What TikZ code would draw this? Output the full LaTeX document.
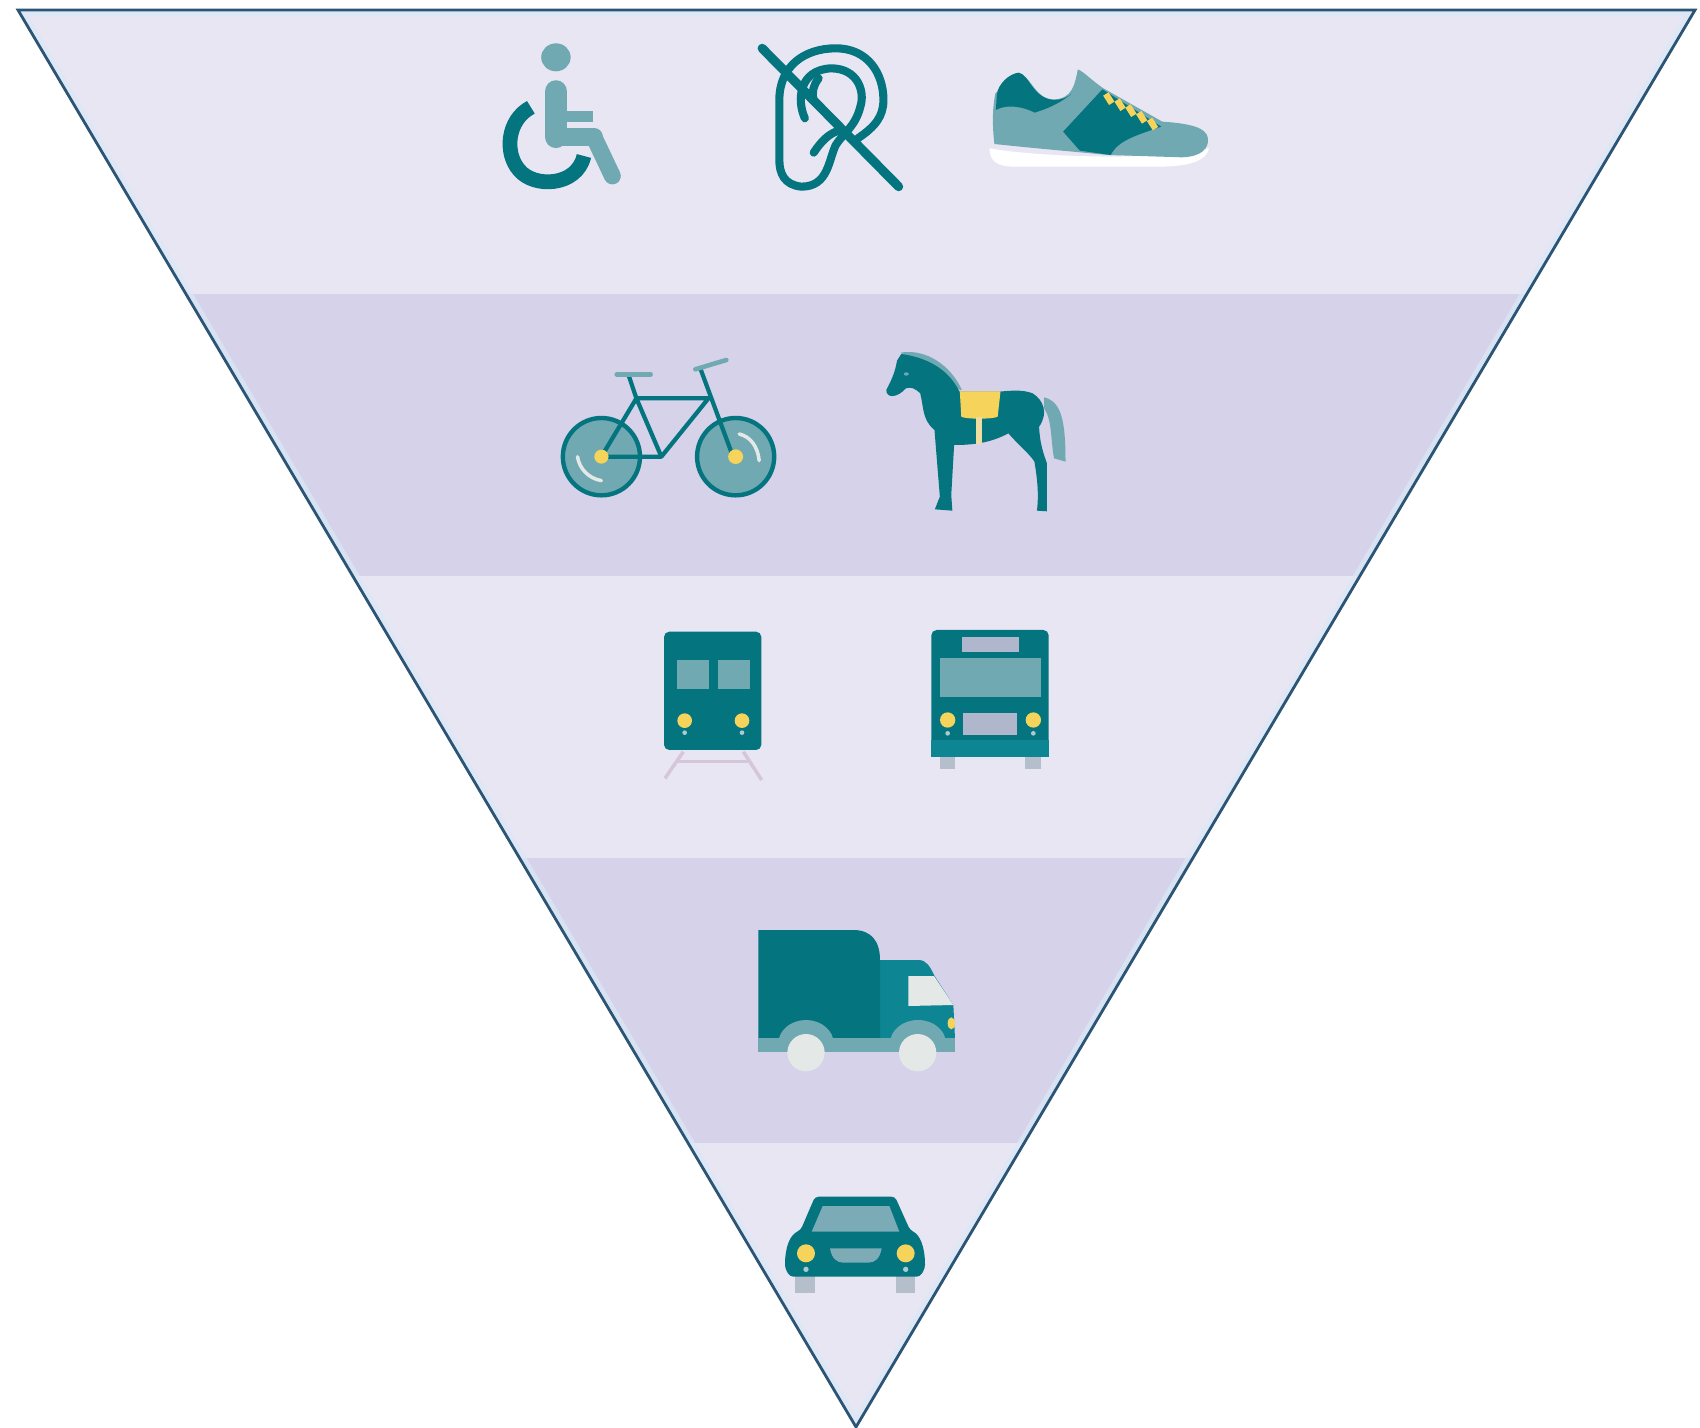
\documentclass[tikz,border=0pt]{standalone}
\definecolor{bandlight}{HTML}{E9E6F4}
\definecolor{banddark}{HTML}{D5D2EA}
\definecolor{tealD}{HTML}{04747F}
\definecolor{tealM}{HTML}{0E8593}
\definecolor{tealL}{HTML}{70A9B2}
\definecolor{yel}{HTML}{F6D35A}
\definecolor{edgeblue}{HTML}{2C5575}
\definecolor{halo}{HTML}{D9E8F6}
\definecolor{palegrey}{HTML}{E4E8E6}
\definecolor{railc}{HTML}{D6C6DC}
\definecolor{tyre}{HTML}{B5BECB}
\definecolor{winL}{HTML}{B0B6CC}
\tikzset{
 rowA/.style={shift={(470,20)},xscale=0.491,yscale=1/3},
 rowB/.style={shift={(540,330)},xscale=0.357,yscale=1/3},
 rowC/.style={shift={(640,610)},scale=1/3},
 strokeT/.style={draw=tealD,line cap=round,line join=round,fill=none},
 strokeL/.style={draw=tealL,line cap=round,line join=round,fill=none},
}
\begin{document}
\begin{tikzpicture}[x=0.01cm,y=-0.01cm]
\useasboundingbox (0,0) rectangle (1700,1428);
\fill[white] (0,0) rectangle (1700,1428);
\coordinate (tl) at (18,10);
\coordinate (tr) at (1695,10);
\coordinate (tip) at (856,1427);
\begin{scope}
\clip (tl) -- (tr) -- (tip) -- cycle;
\fill[bandlight] (0,0) rectangle (1700,294);
\fill[banddark] (0,294) rectangle (1700,576);
\fill[bandlight] (0,576) rectangle (1700,858);
\fill[banddark] (0,858) rectangle (1700,1143);
\fill[bandlight] (0,1143) rectangle (1700,1428);
\draw[halo,line width=3.5pt,opacity=0.75] (tl) -- (tr) -- (tip) -- cycle;
\end{scope}
\draw[edgeblue,line width=0.8pt,line join=miter] (tl) -- (tr) -- (tip) -- cycle;

% wheelchair
\begin{scope}[rowA]
\fill[tealL] (175,112) ellipse (30 and 42);
\draw[strokeL,line width=6.5pt] (175,215) -- (175,350);
\draw[strokeL,line width=5.2pt] (175,350) -- (252,350);
\draw[strokeL,line width=4.8pt] (252,350) -- (290,468);
\draw[strokeL,line width=3pt,line cap=butt] (190,289) -- (250,289);
\draw[strokeT,line width=4.2pt,line cap=butt] (124,262) .. controls (75,300) and (70,400) .. (100,450) .. controls (130,505) and (218,500) .. (232,408);
\end{scope}

% ear crossed
\begin{scope}[rowA]
\begin{scope}[line width=2.3pt]
\draw[strokeT] (682,295) .. controls (665,240) and (670,150) .. (735,145) .. controls (790,145) and (805,215) .. (795,260) .. controls (785,320) and (760,340) .. (745,375) .. controls (730,420) and (730,500) .. (675,500) .. controls (640,495) and (630,460) .. (630,420) -- (630,240) .. controls (630,140) and (680,85) .. (745,85) .. controls (810,85) and (842,160) .. (842,240) .. controls (842,290) and (825,320) .. (790,355);
\draw[strokeT] (700,398) .. controls (715,365) and (730,340) .. (755,330);
\draw[strokeT] (710,175) .. controls (700,195) and (695,215) .. (700,240);
\end{scope}
\draw[strokeT,line width=2.6pt] (595,85) -- (873,500);
\end{scope}

% shoe
\begin{scope}[rowA]
\fill[white] (1058,385) .. controls (1150,410) and (1400,425) .. (1505,385) .. controls (1500,420) and (1470,440) .. (1400,440) -- (1110,440) .. controls (1075,440) and (1058,425) .. (1058,385) -- cycle;
\fill[tealL] (1070,220) .. controls (1062,280) and (1065,330) .. (1068,372) .. controls (1150,385) and (1230,395) .. (1300,405) -- (1450,412) .. controls (1490,410) and (1505,385) .. (1503,355) .. controls (1500,320) and (1460,310) .. (1410,305) -- (1290,205) .. controls (1265,180) and (1250,155) .. (1238,148) .. controls (1232,190) and (1228,240) .. (1185,238) .. controls (1150,235) and (1140,160) .. (1115,160) -- cycle;
\fill[tealD] (1073,225) .. controls (1075,190) and (1100,160) .. (1118,158) .. controls (1140,165) and (1145,235) .. (1190,240) .. controls (1205,240) and (1215,232) .. (1225,222) .. controls (1205,245) and (1185,262) .. (1150,278) .. controls (1130,262) and (1095,250) .. (1071,270) -- cycle;
\fill[tealD] (1288,208) -- (1408,320) .. controls (1360,345) and (1320,360) .. (1305,405) -- (1242,392) -- (1208,335) -- cycle;
\foreach \a/\b in {1295/222,1318/240,1340/258,1362/278,1384/298}{
 \draw[yel,line width=1.8pt] (\a,\b) -- ++(12,28);
}
\end{scope}

% bicycle
\begin{scope}[rowB]
\fill[tealL] (172,380) ellipse (110 and 118);
\fill[tealL] (548,380) ellipse (110 and 118);
\draw[tealD,line width=1.25pt] (172,380) ellipse (108 and 116);
\draw[tealD,line width=1.25pt] (548,380) ellipse (108 and 116);
\draw[palegrey,line width=1pt,line cap=round] (105,380) .. controls (110,415) and (135,445) .. (172,452);
\draw[palegrey,line width=1pt,line cap=round] (558,312) .. controls (590,320) and (610,350) .. (614,392);
\draw[tealD,line width=1.2pt,line join=round] (172,380) -- (340,380) -- (472,205) -- (270,205) -- (340,380);
\draw[tealD,line width=1.2pt] (172,380) -- (270,205) -- (248,135);
\draw[tealD,line width=1.2pt] (450,118) -- (540,378);
\draw[tealL,line width=1.3pt,line cap=round] (215,133) -- (310,133);
\draw[tealL,line width=1.3pt,line cap=round] (435,118) -- (522,90);
\fill[yel] (172,380) ellipse (20 and 21);
\fill[yel] (548,380) ellipse (21 and 22);
\end{scope}

% horse
\begin{scope}[rowB]
\fill[tealL] (1010,68) .. controls (1080,55) and (1150,105) .. (1182,180) -- (1120,170) -- (1040,90) -- cycle;
\fill[tealL] (1412,202) .. controls (1460,215) and (1472,270) .. (1472,395) -- (1440,385) .. controls (1430,330) and (1435,270) .. (1412,235) -- cycle;
\fill[tealD] (1012,72) -- (1000,92) .. controls (995,125) and (985,150) .. (970,180) .. controls (970,205) and (1000,205) .. (1025,175) .. controls (1040,170) and (1050,175) .. (1065,190) .. controls (1075,230) and (1070,270) .. (1105,300) -- (1120,500) -- (1106,538) -- (1155,542) -- (1152,495) -- (1160,345) .. controls (1210,345) and (1260,340) .. (1312,310) .. controls (1340,345) and (1370,370) .. (1385,395) .. controls (1392,440) and (1398,490) .. (1392,542) -- (1420,544) -- (1420,400) .. controls (1410,370) and (1400,340) .. (1398,290) .. controls (1425,250) and (1410,210) .. (1380,190) .. controls (1350,178) and (1320,182) .. (1285,185) -- (1175,185) .. controls (1150,130) and (1100,85) .. (1012,72) -- cycle;
\fill[yel] (1176,184) -- (1290,184) -- (1282,260) .. controls (1270,268) and (1190,268) .. (1180,260) -- cycle;
\fill[palegrey!50!yel] (1222,262) rectangle (1238,342);
\fill[tealL] (1026,132) ellipse (7 and 5);
\end{scope}

% train
\begin{scope}[rowC]
\draw[railc,line width=1pt] (130,425) -- (75,505);
\draw[railc,line width=1pt] (310,425) -- (365,510);
\draw[railc,line width=1pt] (110,455) -- (325,455);
\fill[tealD,rounded corners=1.5pt] (72,65) rectangle (364,420);
\fill[tealL] (112,150) rectangle (208,238);
\fill[tealL] (235,150) rectangle (330,238);
\fill[yel] (134,332) circle (22);
\fill[yel] (306,332) circle (22);
\fill[tealL!60!white] (134,368) circle (7);
\fill[tealL!60!white] (306,368) circle (7);
\end{scope}

% bus
\begin{scope}[rowC]
\fill[tyre] (900,440) rectangle (945,478);
\fill[tyre] (1155,440) rectangle (1202,478);
\fill[tealD,rounded corners=1.5pt] (874,60) rectangle (1226,410);
\fill[tealM] (874,390) rectangle (1226,440);
\fill[winL] (965,82) rectangle (1138,125);
\fill[tealL] (900,143) rectangle (1202,262);
\fill[winL] (970,308) rectangle (1132,375);
\fill[yel] (923,330) circle (23);
\fill[yel] (1180,330) circle (23);
\fill[tealL!60!white] (923,370) circle (7);
\fill[tealL!60!white] (1180,370) circle (7);
\end{scope}

% truck
\begin{scope}[shift={(740,910)},scale=1/3]
\fill[tealM] (420,150) -- (535,150) .. controls (560,150) and (570,170) .. (582,195) -- (640,285) -- (645,385) -- (420,385) -- cycle;
\fill[palegrey] (505,198) -- (582,198) -- (640,285) -- (505,288) -- cycle;
\fill[tealD] (55,60) -- (340,60) .. controls (395,60) and (420,95) .. (420,150) -- (420,385) -- (55,385) -- cycle;
\fill[tealL] (55,385) rectangle (645,426);
\fill[tealL] (115,400) arc[start angle=180,end angle=360,x radius=83,y radius=70] -- cycle;
\fill[tealL] (450,400) arc[start angle=180,end angle=360,x radius=84,y radius=70] -- cycle;
\fill[palegrey] (198,428) circle (56);
\fill[palegrey] (533,428) circle (56);
\fill[yel] (634,340) ellipse (11 and 18);
\end{scope}

% car
\begin{scope}[shift={(760,1180)},scale=1/3]
\fill[tyre] (105,285) rectangle (165,340);
\fill[tyre] (408,285) rectangle (465,340);
\fill[tealD,rounded corners=1pt] (165,50) -- (405,50) -- (450,150) .. controls (480,165) and (495,200) .. (495,265) -- (480,290) -- (90,290) -- (75,265) .. controls (75,200) and (90,165) .. (122,150) -- cycle;
\fill[tealL!85!winL] (188,78) -- (388,78) -- (418,155) -- (155,155) -- cycle;
\fill[tealL!80!winL] (210,205) -- (365,205) .. controls (360,235) and (345,248) .. (325,248) -- (250,248) .. controls (230,248) and (215,235) .. (210,205) -- cycle;
\fill[yel] (138,220) circle (27);
\fill[yel] (437,220) circle (27);
\fill[tealL!60!white] (138,268) circle (8);
\fill[tealL!60!white] (437,268) circle (8);
\end{scope}
\end{tikzpicture}
\end{document}
